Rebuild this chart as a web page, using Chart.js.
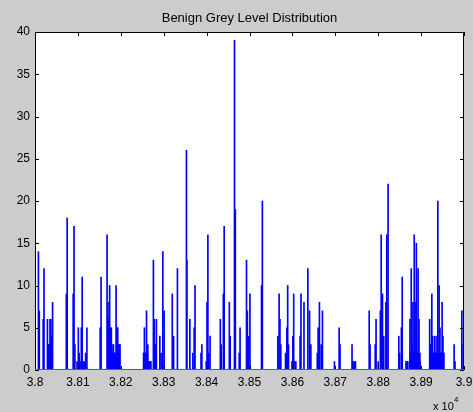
<!DOCTYPE html>
<html>
<head>
<meta charset="utf-8">
<script src="https://cdn.jsdelivr.net/npm/chart.js@4"></script>
<style>
  body { margin: 0; background: #cccccc; }
  canvas { display: block; }
</style>
</head>
<body>
<canvas id="chart" width="473" height="412"></canvas>
<script>
// grey levels (offset from 38000) and how many pixels have that level
const levelOffsets = [
    8, 10, 19, 21, 29, 30, 31, 32, 33, 34, 35, 36, 37, 38, 39, 40, 41,
    73, 75, 89, 91, 93, 98, 101, 103, 105, 108, 110, 112, 115, 118, 121,
    152, 154, 168, 170, 172, 174, 176, 178, 179, 180, 181, 182, 183, 184, 185, 186, 187,
    189, 191, 193, 194, 195, 196, 197, 198,
    253, 254, 255, 256, 257, 258, 259, 260, 261, 262, 263, 264, 265, 266, 267, 268, 269, 270,
    276, 278, 281, 283, 291, 294, 298, 301, 320, 323, 332, 353, 354, 361, 368, 371, 373,
    387, 389, 399, 401, 403, 405, 408, 432, 434, 439, 441, 453, 455, 465, 467, 476, 478,
    493, 495, 498, 501, 528, 530,
    566, 569, 571, 573, 584, 587, 589, 591, 599, 601, 603, 605, 608, 618, 620, 627, 636,
    640, 643, 658, 660, 663, 667, 670, 698, 709, 711, 739, 741, 743, 745, 747,
    779, 781, 793, 795, 800, 805, 807, 808, 810, 813, 818, 820, 823, 848, 850, 854, 856,
    865, 866, 867, 868, 869,
    874, 875, 876, 877, 878, 879, 880, 881, 882, 883, 884, 885, 886, 887, 888, 889, 890,
    891, 892, 893, 894, 895, 896, 897, 898,
    920, 921, 922, 923, 924, 925, 926, 927, 928, 929, 930, 931, 932, 933, 934, 935, 936,
    937, 938, 939, 940, 941, 942, 943, 944, 945, 946, 947, 948, 949, 950, 951, 952, 953,
    977, 979, 995, 998
];
const pixelCounts = [
    14, 7, 6, 12, 6, 3, 3, 3, 3, 3, 6, 3, 6, 3, 4, 3, 8,
    9, 18, 9, 17, 3, 1, 5, 2, 1, 5, 11, 1, 1, 2, 5,
    5, 11, 16, 8, 6, 10, 5, 5, 2, 2, 2, 3, 3, 2, 2, 2, 2,
    10, 5, 5, 2, 2, 3, 3, 3,
    2, 2, 5, 1, 1, 2, 2, 7, 2, 2, 3, 1, 1, 1, 1, 1, 1, 1,
    13, 6, 3, 6, 4, 2, 14, 7, 9, 4, 12, 26, 13, 6, 2, 5, 10,
    2, 3, 1, 8, 16, 2, 4, 6, 3, 9, 17, 8, 4, 39, 19, 2, 5,
    13, 7, 4, 9, 10, 20,
    4, 9, 6, 3, 2, 5, 10, 3, 1, 4, 9, 1, 1, 4, 9, 8, 12,
    7, 3, 2, 5, 8, 3, 7, 1, 5, 3, 3, 1, 1, 1, 1,
    7, 3, 3, 6, 1, 7, 16, 5, 9, 4, 8, 16, 22, 4, 2, 5, 11,
    1, 1, 1, 1, 1,
    6, 2, 2, 12, 2, 3, 2, 8, 2, 2, 16, 2, 8, 2, 2, 15, 2,
    2, 2, 12, 2, 6, 2, 2, 1,
    6, 2, 3, 2, 2, 9, 2, 4, 2, 2, 2, 2, 4, 2, 2, 2, 2,
    4, 2, 20, 2, 2, 10, 2, 5, 2, 2, 2, 2, 8, 2, 4, 2, 2,
    3, 1, 7, 3
];
const baseLevel = 38000;
const xTicks = [3.8, 3.81, 3.82, 3.83, 3.84, 3.85, 3.86, 3.87, 3.88, 3.89, 3.9];
const yTicks = [0, 5, 10, 15, 20, 25, 30, 35, 40];

const FONT = 'Liberation Sans, Arial, sans-serif';

const frame = {
    id: 'frame',
    beforeDraw(chart) {
        const { ctx, chartArea: a } = chart;
        ctx.save();
        ctx.fillStyle = '#cccccc';
        ctx.fillRect(0, 0, chart.width, chart.height);
        ctx.fillStyle = '#ffffff';
        ctx.fillRect(a.left, a.top, a.right - a.left, a.bottom - a.top);
        ctx.restore();
    },
    afterDraw(chart) {
        const { ctx, chartArea: a, scales } = chart;
        ctx.save();
        ctx.strokeStyle = '#000000';
        ctx.lineWidth = 1;
        ctx.beginPath();
        // inward ticks, MATLAB style, on all four sides
        xTicks.forEach(t => {
            const x = Math.round(scales.x.getPixelForValue(t * 10000)) + 0.5;
            ctx.moveTo(x, a.bottom); ctx.lineTo(x, a.bottom - 4);
            ctx.moveTo(x, a.top); ctx.lineTo(x, a.top + 4);
        });
        yTicks.forEach(t => {
            const y = Math.round(scales.y.getPixelForValue(t)) + 0.5;
            ctx.moveTo(a.left, y); ctx.lineTo(a.left + 4, y);
            ctx.moveTo(a.right, y); ctx.lineTo(a.right - 4, y);
        });
        ctx.stroke();
        ctx.strokeRect(Math.round(a.left) + 0.5, Math.round(a.top) + 0.5,
            Math.round(a.right - a.left) - 1, Math.round(a.bottom - a.top) - 1);
        // bar baseline
        ctx.strokeStyle = '#4f4fff';
        ctx.beginPath();
        ctx.moveTo(a.left, Math.round(a.bottom) - 0.5);
        ctx.lineTo(a.right, Math.round(a.bottom) - 0.5);
        ctx.stroke();

        ctx.fillStyle = '#000000';
        ctx.font = '13px ' + FONT;
        ctx.textAlign = 'center';
        ctx.textBaseline = 'alphabetic';
        ctx.fillText('Benign Grey Level Distribution', (a.left + a.right) / 2, 22);
        ctx.textAlign = 'left';
        ctx.font = '11px ' + FONT;
        ctx.fillText('x 10', 433, 410);
        ctx.font = '8px ' + FONT;
        ctx.fillText('4', 454, 402);
        ctx.restore();
    }
};

new Chart(document.getElementById('chart'), {
    type: 'bar',
    data: {
        datasets: [{
            data: levelOffsets.map((d, i) => ({ x: baseLevel + d, y: pixelCounts[i] })),
            backgroundColor: '#0000ff',
            borderWidth: 0,
            barThickness: 1
        }]
    },
    options: {
        responsive: false,
        animation: false,
        layout: { padding: { top: 32, left: 0, right: 9, bottom: 0 } },
        plugins: { legend: { display: false }, tooltip: { enabled: false }, title: { display: false } },
        scales: {
            x: {
                type: 'linear',
                min: 38000,
                max: 39000,
                offset: false,
                grid: { display: false, drawTicks: false },
                border: { display: false },
                afterBuildTicks: axis => { axis.ticks = xTicks.map(v => ({ value: v * 10000 })); },
                afterFit: axis => { axis.height = 42; axis.paddingLeft = 0; axis.paddingRight = 0; },
                ticks: {
                    color: '#000000',
                    padding: 5,
                    maxRotation: 0,
                    autoSkip: false,
                    font: { family: FONT, size: 12 },
                    callback: v => String(parseFloat((v / 10000).toFixed(3)))
                }
            },
            y: {
                min: 0,
                max: 40,
                grid: { display: false, drawTicks: false },
                border: { display: false },
                afterBuildTicks: axis => { axis.ticks = yTicks.map(v => ({ value: v })); },
                afterFit: axis => { axis.width = 35; axis.paddingTop = 0; axis.paddingBottom = 0; },
                ticks: {
                    color: '#000000',
                    padding: 5,
                    font: { family: FONT, size: 12 }
                }
            }
        }
    },
    plugins: [frame]
});
</script>
</body>
</html>
